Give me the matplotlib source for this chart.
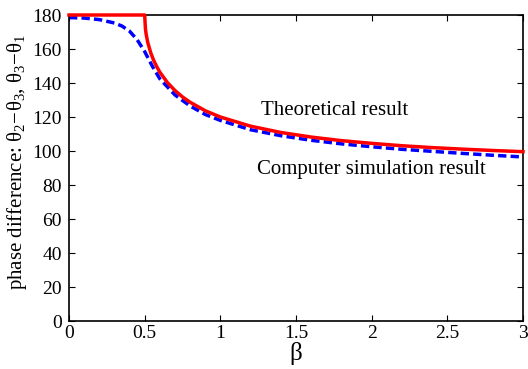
import matplotlib
matplotlib.use("Agg")
import matplotlib.pyplot as plt

plt.rcParams['font.family'] = ['Liberation Serif', 'DejaVu Serif']
plt.rcParams['mathtext.fontset'] = 'custom'
plt.rcParams['mathtext.rm'] = 'Liberation Serif'
plt.rcParams['mathtext.it'] = 'Liberation Serif'

# theoretical result (red)
beta_teo = [0, 0.5, 0.505, 0.51, 0.52, 0.54, 0.56, 0.58, 0.6, 0.65, 0.7, 0.75, 0.8,
            0.9, 1.0, 1.2, 1.4, 1.6, 1.8, 2.0, 2.2, 2.4, 2.6, 2.8, 3.0]
fase_teo = [180, 180, 171.9, 168.6, 164.0, 157.8, 153.2, 149.6, 146.4, 140.3, 135.6, 131.8, 128.7,
            123.7, 120.0, 114.6, 110.9, 108.2, 106.1, 104.5, 103.1, 102.0, 101.1, 100.3, 99.6]

# computer simulation (blue dashed)
beta_sim = [0, 0.1, 0.2, 0.3, 0.35, 0.4, 0.45, 0.5, 0.55, 0.6, 0.7, 0.8, 0.9,
            1.0, 1.2, 1.4, 1.6, 1.8, 2.0, 2.2, 2.4, 2.6, 2.8, 3.0]
fase_sim = [178.5, 178.2, 177.3, 175.3, 173.5, 170.5, 165.5, 158.5, 150.0, 142.5, 133.0, 126.5, 121.5,
            118.0, 112.5, 109.0, 106.3, 104.2, 102.5, 101.0, 99.8, 98.6, 97.5, 96.5]

fig = plt.figure(figsize=(5.28, 3.69), dpi=100)
ax = fig.add_axes([69/528, 1 - 321/369, 454/528, 306/369])

ax.plot(beta_teo, fase_teo, color='red', lw=2.5, solid_joinstyle='round', zorder=3, clip_on=False)
ax.plot(beta_sim, fase_sim, color='blue', lw=2.5, ls=(0, (2.4, 1.2)), zorder=2)

ax.set_xlim(0, 3)
ax.set_ylim(0, 180)
ax.set_xticks([0, 0.5, 1, 1.5, 2, 2.5, 3])
ax.set_xticklabels(['0', '0.5', '1', '1.5', '2', '2.5', '3'])
ax.set_yticks(range(0, 181, 20))
ax.tick_params(direction='in', top=True, right=True, labelsize=14, length=4, width=0.8)
ax.tick_params(axis='y', pad=5)
ax.tick_params(axis='x', pad=3)
for s in ax.spines.values():
    s.set_linewidth(1.2)

ax.text(1.27, 124, 'Theoretical result', fontsize=15, va='center', ha='left')
ax.text(1.24, 89, 'Computer simulation result', fontsize=15, va='center', ha='left')

ax.set_xlabel('β', fontsize=18, labelpad=0)
ax.set_ylabel(r'phase difference: $\theta_2\!-\!\theta_3$, $\theta_3\!-\!\theta_1$', fontsize=15)
ax.yaxis.set_label_coords(-0.088, 0.52)

fig.savefig('out.png', dpi=100)
